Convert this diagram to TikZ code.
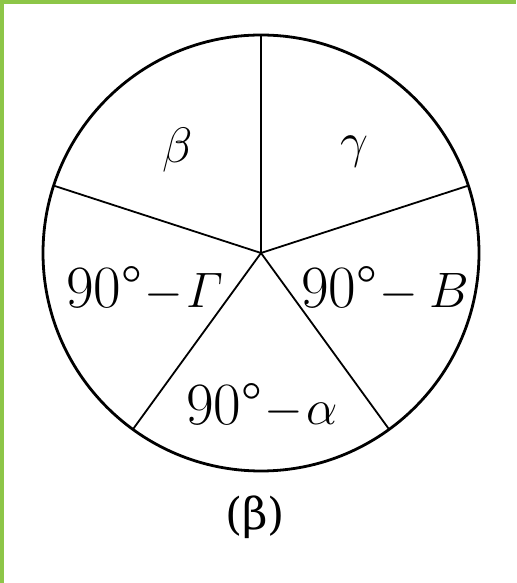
\documentclass[tikz,border=0pt]{standalone}
\usepackage{amsmath,amssymb}
\usepackage{fontspec}
\newfontfamily\grfont{DejaVu Serif}
\usetikzlibrary{calc}
\definecolor{leafgreen}{RGB}{141,198,72}

\begin{document}
\begin{tikzpicture}[x=0.5pt,y=0.5pt,font=\fontsize{30}{36}\selectfont]
\useasboundingbox (0,0) rectangle (516,583);
\fill[leafgreen] (0,0) rectangle (4,583);
\fill[leafgreen] (0,579) rectangle (516,583);
\coordinate (ctr) at (261,330);
\draw[line width=1.4pt] (ctr) circle[radius=218];
\foreach \a in {18,90,162,234,306}
  \draw[line width=0.9pt] (ctr) -- ($(ctr)+(\a:218)$) coordinate (rim\a);
\node (beta) at (178,433) {\fontsize{31}{36}\selectfont$\beta$};
\node (gamma) at (354,431) {\fontsize{31}{36}\selectfont$\gamma$};
\node[anchor=base] (cgamma) at (144.5,275) {90°$\mskip1mu{-}\mskip1mu\varGamma$};
\node[anchor=base] (cb) at (385,275) {90°$\mskip1mu{-}\mskip4mu B$};
\node[anchor=base] (calpha) at (262,158) {90°$\mskip1mu{-}\mskip1mu\alpha$};
\node (cap) at (255,66) {\grfont\fontsize{22}{28}\selectfont(β)};
\end{tikzpicture}
\end{document}
